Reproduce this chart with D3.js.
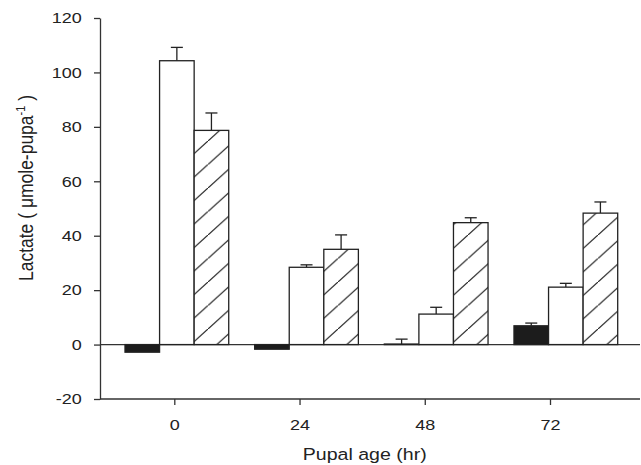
<!DOCTYPE html>
<html>
<head>
<meta charset="utf-8">
<script src="https://cdn.jsdelivr.net/npm/d3@7"></script>
<style>
  body { margin: 0; background: #fff; }
  text { font-family: "Liberation Sans", Arial, sans-serif; fill: #222; }
</style>
</head>
<body>
<div id="chart"></div>
<script>
// data
let ages = [0, 24, 48, 72];
let seriesNames = ['solid', 'open', 'hatched'];
let solidVals = [-2.8, -1.7, 0.2, 6.9];
let solidErr = [0, 0, 1.8, 1.0];
let openVals = [104.3, 28.4, 11.2, 21.1];
let openErr = [4.9, 0.9, 2.5, 1.4];
let hatchVals = [78.7, 35.0, 44.8, 48.3];
let hatchErr = [6.4, 5.3, 1.8, 4.1];
let yTicks = [-20, 0, 20, 40, 60, 80, 100, 120];

let width = 641, height = 465;
// the original figure is stretched sideways, so text gets a horizontal scale
let stretch = 1.2;

let svg = d3.select('#chart').append('svg')
  .attr('width', width)
  .attr('height', height);

// hatch pattern, lines going up to the right
let defs = svg.append('defs');
let pat = defs.append('pattern')
  .attr('id', 'hatch')
  .attr('patternUnits', 'userSpaceOnUse')
  .attr('width', 26)
  .attr('height', 23.5);
pat.append('rect').attr('width', 26).attr('height', 23.5).attr('fill', '#fff');
pat.append('line')
  .attr('x1', -1).attr('y1', 24.4)
  .attr('x2', 27).attr('y2', -0.9)
  .attr('stroke', '#222').attr('stroke-width', 1.2);

let y = d3.scaleLinear().domain([-20, 120]).range([399, 18]);

// tick positions for pupal age
let xTick = d3.scaleLinear().domain([0, 72]).range([174.3, 550]);

// bar groups
let x0 = d3.scaleBand().domain(ages).range([125, 617.7]).paddingInner(0.2).paddingOuter(0);
let x1 = d3.scaleBand().domain(seriesNames).range([0, x0.bandwidth()]);

let fills = { solid: '#1c1c1c', open: '#fff', hatched: 'url(#hatch)' };

let rows = [];
ages.forEach(function(a, i) {
  rows.push({ age: a, s: 'solid', v: solidVals[i], e: solidErr[i] });
  rows.push({ age: a, s: 'open', v: openVals[i], e: openErr[i] });
  rows.push({ age: a, s: 'hatched', v: hatchVals[i], e: hatchErr[i] });
});

// zero line across the plot
svg.append('line')
  .attr('x1', 100).attr('x2', 640)
  .attr('y1', y(0)).attr('y2', y(0))
  .attr('stroke', '#333').attr('stroke-width', 1.3);

// error bars (drawn first so bars sit over the stems)
function midX(d) { return x0(d.age) + x1(d.s) + x1.bandwidth() / 2; }
let eb = svg.selectAll('.err')
  .data(rows.filter(function(d) { return d.e > 0; }))
  .enter().append('g')
  .attr('class', 'err')
  .attr('stroke', '#222').attr('stroke-width', 1.3);
eb.append('line')
  .attr('x1', midX)
  .attr('x2', midX)
  .attr('y1', function(d) { return y(Math.max(d.v, 0)); })
  .attr('y2', function(d) { return y(Math.max(d.v, 0) + d.e); });
eb.append('line')
  .attr('x1', function(d) { return midX(d) - 6; })
  .attr('x2', function(d) { return midX(d) + 6; })
  .attr('y1', function(d) { return y(Math.max(d.v, 0) + d.e); })
  .attr('y2', function(d) { return y(Math.max(d.v, 0) + d.e); });

// bars
svg.selectAll('.bar')
  .data(rows)
  .enter().append('rect')
  .attr('class', 'bar')
  .attr('x', function(d) { return x0(d.age) + x1(d.s); })
  .attr('width', x1.bandwidth())
  .attr('y', function(d) { return y(Math.max(d.v, 0)); })
  .attr('height', function(d) { return Math.abs(y(d.v) - y(0)); })
  .attr('fill', function(d) { return fills[d.s]; })
  .attr('stroke', '#222')
  .attr('stroke-width', 1.3);

// y axis (plain hyphen for negatives, like the original)
let yAxis = svg.append('g')
  .attr('transform', 'translate(100,0)')
  .call(d3.axisLeft(y).tickValues(yTicks).tickSize(6).tickSizeOuter(0)
    .tickFormat(function(d) { return String(d); }));
yAxis.selectAll('path, line').attr('stroke', '#333').attr('stroke-width', 1.3);
yAxis.selectAll('text')
  .attr('x', -18.3 / stretch)
  .attr('transform', 'scale(' + stretch + ',1)')
  .style('font-size', '15px')
  .style('font-family', '"Liberation Sans", Arial, sans-serif')
  .attr('fill', '#222');

// x axis
let xAxis = svg.append('g')
  .attr('transform', 'translate(0,399)')
  .call(d3.axisBottom(xTick).tickValues(ages).tickSize(6));
xAxis.select('.domain').remove();
xAxis.selectAll('line').attr('stroke', '#333').attr('stroke-width', 1.3);
xAxis.selectAll('text')
  .attr('y', 31.5).attr('dy', null)
  .attr('transform', 'scale(' + stretch + ',1)')
  .style('font-size', '15px')
  .style('font-family', '"Liberation Sans", Arial, sans-serif')
  .attr('fill', '#222');
svg.append('line')
  .attr('x1', 100).attr('x2', 640)
  .attr('y1', 399).attr('y2', 399)
  .attr('stroke', '#333').attr('stroke-width', 1.3);

// axis titles
svg.append('text')
  .attr('transform', 'translate(364.7,460) scale(' + stretch + ',1)')
  .attr('text-anchor', 'middle')
  .style('font-size', '16.3px')
  .text('Pupal age (hr)');

let yt = svg.append('text')
  .attr('transform', 'translate(33,188) rotate(-90) scale(1,' + stretch + ')')
  .attr('text-anchor', 'middle')
  .style('font-size', '17.5px');
yt.append('tspan').text('Lactate ( \u03bcmole-pupa');
yt.append('tspan').attr('dy', -7).style('font-size', '11px').text('-1');
yt.append('tspan').attr('dy', 7).text(' )');
</script>
</body>
</html>
